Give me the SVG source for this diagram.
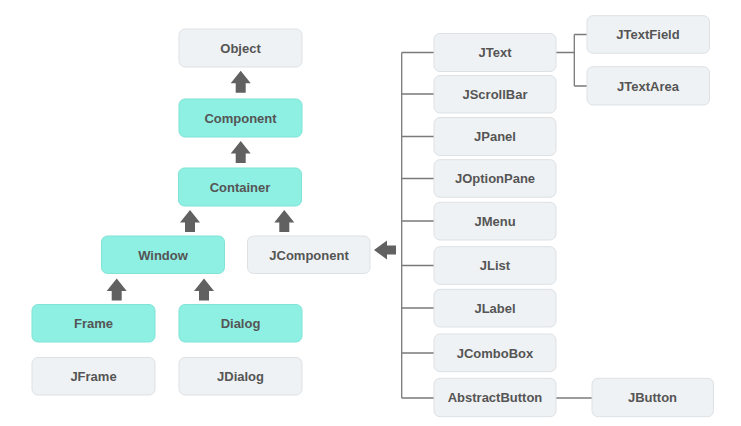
<svg xmlns="http://www.w3.org/2000/svg" xmlns:xlink="http://www.w3.org/1999/xlink" width="741" height="426" viewBox="0 0 741 426">
<style>
.g{fill:#eff2f4;stroke:#dde1e4;stroke-width:1}
.t{fill:#8eefe3;stroke:#7fe3d6;stroke-width:1}
.lbl{font-family:"Liberation Sans",Arial,sans-serif;font-weight:bold;font-size:13px;fill:#555555;text-anchor:middle;dominant-baseline:central}
.ln{fill:none;stroke:#7a7a7a;stroke-width:1.3}
.ar{fill:#616161}
</style>
<defs>
<path id="up" d="M0,0 L10,12.5 L5,12.5 L5,22 L-5,22 L-5,12.5 L-10,12.5 Z"/>
</defs>
<rect width="741" height="426" fill="#ffffff"/>
<g id="connectors">
<use xlink:href="#up" class="ar" x="240.7" y="70.7"/>
<use xlink:href="#up" class="ar" x="240.7" y="141"/>
<use xlink:href="#up" class="ar" x="190" y="210"/>
<use xlink:href="#up" class="ar" x="284.3" y="210"/>
<use xlink:href="#up" class="ar" x="116.7" y="278.5"/>
<use xlink:href="#up" class="ar" x="204" y="278.5"/>
<path class="ar" d="M374,250 L387,240.5 L387,245.5 L396,245.5 L396,254.5 L387,254.5 L387,259.5 Z"/>
<path class="ln" d="M401.7,52.5 V398 M401.7,52.5 H434 M401.7,94 H434 M401.7,136.5 H434 M401.7,178.5 H434 M401.7,221 H434 M401.7,265.5 H434 M401.7,308 H434 M401.7,353 H434 M401.7,398 H434"/>
<path class="ln" d="M556,52.5 H574.3 M574.3,34.5 V86 M574.3,34.5 H587 M574.3,86 H587"/>
<path class="ln" d="M556,398 H592"/>
</g>
<g id="node-object"><rect class="g" x="179" y="29" width="123" height="38" rx="6"/><text class="lbl" x="240.5" y="48">Object</text></g>
<g id="node-component"><rect class="t" x="179" y="99" width="123" height="38" rx="6"/><text class="lbl" x="240.5" y="118">Component</text></g>
<g id="node-container"><rect class="t" x="178.5" y="168" width="123" height="38" rx="6"/><text class="lbl" x="240" y="187">Container</text></g>
<g id="node-window"><rect class="t" x="101.5" y="236" width="123" height="37.5" rx="6"/><text class="lbl" x="163" y="255">Window</text></g>
<g id="node-jcomponent"><rect class="g" x="247.5" y="236" width="122.5" height="37.5" rx="6"/><text class="lbl" x="309" y="255">JComponent</text></g>
<g id="node-frame"><rect class="t" x="32" y="304.5" width="123" height="37.5" rx="6"/><text class="lbl" x="93.5" y="323">Frame</text></g>
<g id="node-dialog"><rect class="t" x="179" y="304.5" width="123" height="37.5" rx="6"/><text class="lbl" x="240.5" y="323">Dialog</text></g>
<g id="node-jframe"><rect class="g" x="32" y="357.5" width="123" height="37.5" rx="6"/><text class="lbl" x="93.5" y="376.5">JFrame</text></g>
<g id="node-jdialog"><rect class="g" x="179" y="357.5" width="123" height="37.5" rx="6"/><text class="lbl" x="240.5" y="376.5">JDialog</text></g>
<g id="node-jtext"><rect class="g" x="434" y="33.5" width="122" height="38" rx="6"/><text class="lbl" x="495" y="52.5">JText</text></g>
<g id="node-jscrollbar"><rect class="g" x="434" y="75.5" width="122" height="37.5" rx="6"/><text class="lbl" x="495" y="94">JScrollBar</text></g>
<g id="node-jpanel"><rect class="g" x="434" y="117.5" width="122" height="38" rx="6"/><text class="lbl" x="495" y="136.5">JPanel</text></g>
<g id="node-joptionpane"><rect class="g" x="434" y="159.7" width="122" height="37.6" rx="6"/><text class="lbl" x="495" y="178.5">JOptionPane</text></g>
<g id="node-jmenu"><rect class="g" x="434" y="202.3" width="122" height="37.7" rx="6"/><text class="lbl" x="495" y="221">JMenu</text></g>
<g id="node-jlist"><rect class="g" x="434" y="246.7" width="122" height="37.6" rx="6"/><text class="lbl" x="495" y="265.5">JList</text></g>
<g id="node-jlabel"><rect class="g" x="434" y="289.3" width="122" height="37.7" rx="6"/><text class="lbl" x="495" y="308">JLabel</text></g>
<g id="node-jcombobox"><rect class="g" x="434" y="334" width="122" height="37.7" rx="6"/><text class="lbl" x="495" y="353">JComboBox</text></g>
<g id="node-abstractbutton"><rect class="g" x="434" y="378.3" width="122" height="38.4" rx="6"/><text class="lbl" x="495" y="397.5">AbstractButton</text></g>
<g id="node-jtextfield"><rect class="g" x="587" y="15.7" width="122.5" height="37.6" rx="6"/><text class="lbl" x="648" y="34.5">JTextField</text></g>
<g id="node-jtextarea"><rect class="g" x="587" y="66.7" width="122.5" height="38.3" rx="6"/><text class="lbl" x="648" y="86">JTextArea</text></g>
<g id="node-jbutton"><rect class="g" x="592" y="378.3" width="121.5" height="38.4" rx="6"/><text class="lbl" x="652.5" y="397.5">JButton</text></g>
</svg>
